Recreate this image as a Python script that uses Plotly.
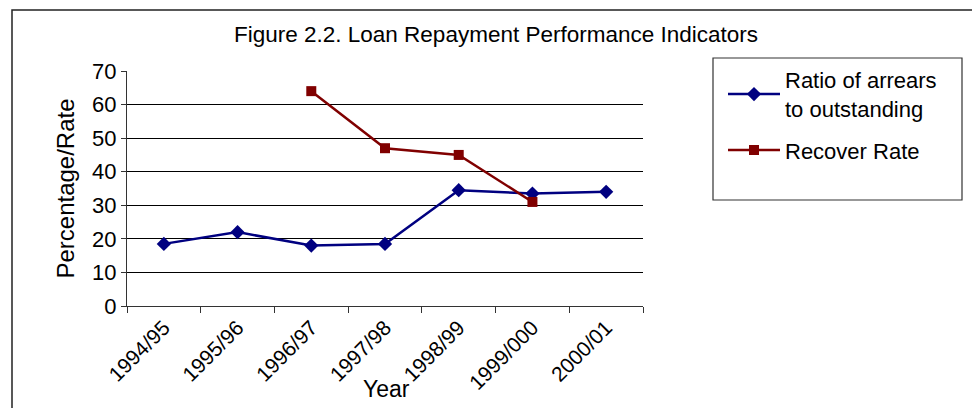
import plotly.graph_objects as go

years = ["1994/95", "1995/96", "1996/97", "1997/98", "1998/99", "1999/000", "2000/01"]
arrears_ratio = [18.5, 22.0, 18.0, 18.5, 34.5, 33.5, 34.0]
recover_rate = [None, None, 64.0, 47.0, 45.0, 31.0, None]

FONT = "Liberation Sans, Arial, sans-serif"

# plot-area geometry in pixels (used to place paper-referenced decorations)
W, H = 972, 408
L, R, T, B = 127, 329, 71, 102
PW, PH = W - L - R, H - T - B


def px_x(x):
    return (x - L) / PW


def px_y(y):
    return (H - B - y) / PH


fig = go.Figure()
fig.add_trace(go.Scatter(
    x=years, y=arrears_ratio, mode="lines+markers",
    name="Ratio of arrears<br>to outstanding", legendgroup="a",
    line=dict(color="#000080", width=2.5),
    marker=dict(symbol="diamond", size=11, color="#000080"),
))
fig.add_trace(go.Scatter(
    x=years, y=recover_rate, mode="lines+markers",
    name="Recover Rate", legendgroup="b",
    line=dict(color="#800000", width=2.5),
    marker=dict(symbol="square", size=10, color="#800000"),
))

fig.update_layout(
    width=W, height=H,
    margin=dict(l=L, r=R, t=T, b=B),
    paper_bgcolor="white", plot_bgcolor="white",
    font=dict(family=FONT, size=19, color="black"),
    showlegend=True,
    legend=dict(
        x=px_x(723), y=px_y(59), xanchor="left", yanchor="top",
        bgcolor="rgba(0,0,0,0)", borderwidth=0,
        font=dict(family=FONT, size=22, color="black"),
        itemwidth=52, traceorder="grouped", tracegroupgap=10,
    ),
    xaxis=dict(
        type="category", range=[-0.5, 6.5],
        showgrid=False, showline=True, linecolor="#333", linewidth=1.2,
        ticks="outside", tickson="boundaries", ticklen=6, tickcolor="#333",
        tickangle=-45, tickfont=dict(size=21),
    ),
    yaxis=dict(
        range=[0, 70], dtick=10,
        showgrid=True, gridcolor="black", gridwidth=1,
        showline=True, linecolor="#333", linewidth=1.2,
        ticks="outside", ticklen=5, tickcolor="#333",
        tickfont=dict(size=22), zeroline=False,
        title=dict(text="Percentage/Rate", font=dict(size=24), standoff=10),
    ),
    annotations=[
        dict(text="Figure 2.2. Loan Repayment Performance Indicators",
             xref="paper", yref="paper", x=px_x(496), y=px_y(34),
             xanchor="center", yanchor="middle", showarrow=False,
             font=dict(size=22.5)),
        dict(text="Year", xref="paper", yref="paper",
             x=px_x(386), y=px_y(389), xanchor="center", yanchor="middle",
             showarrow=False, font=dict(size=23)),
    ],
    shapes=[
        # outer chart frame
        dict(type="rect", xref="paper", yref="paper",
             x0=px_x(12), x1=px_x(980), y0=px_y(10), y1=px_y(420),
             line=dict(color="#222", width=1.5), layer="below"),
        # legend frame
        dict(type="rect", xref="paper", yref="paper",
             x0=px_x(713), x1=px_x(962), y0=px_y(58), y1=px_y(200),
             line=dict(color="#333", width=1.2)),
    ],
)

fig.write_html("out.html")
